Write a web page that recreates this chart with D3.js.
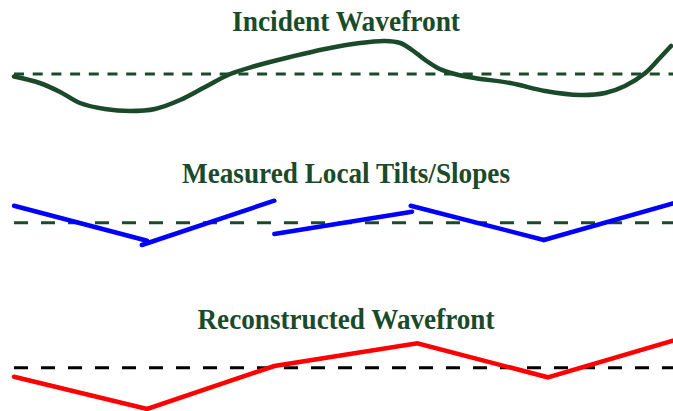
<!DOCTYPE html>
<html>
<head>
<meta charset="utf-8">
<script src="https://cdn.jsdelivr.net/npm/d3@7"></script>
<style>
  html, body { margin: 0; padding: 0; background: #ffffff; }
  svg { display: block; }
</style>
</head>
<body>
<svg id="chart" width="673" height="411"></svg>
<script>
// ---- Data ----
const titles = ["Incident Wavefront", "Measured Local Tilts/Slopes", "Reconstructed Wavefront"];

// Incident wavefront: aperture position (0-100) and phase (relative to reference)
const incidentX = [0, 3.9, 7.0, 10.0, 13.8, 17.6, 21.4, 25.2, 29.0, 32.8, 36.6, 41.9, 47.2, 52.5, 56.3,
                   58.6, 60.4, 62.4, 64.6, 66.9, 69.9, 75.3, 80.6, 85.9, 89.7, 92.7, 95.8, 98.0, 99.7];
const incidentY = [-2.5, -9, -18, -29, -35, -37, -35, -26, -13, 0, 8, 17, 25, 31, 33,
                   31, 24, 14, 5, 0, -4, -9, -17, -21, -19, -12, 1, 16, 28];

// Measured local tilts: one segment per subaperture
const tiltX0 = [0, 19.4, 39.5, 60.2, 80.4];
const tiltX1 = [20.2, 39.5, 60.4, 80.4, 100];
const tiltY0 = [17, -22.3, -11.3, 17, -17.3];
const tiltY1 = [-18, 22, 11, -17.3, 19.4];

// Reconstructed wavefront nodes
const reconX = [0, 20.2, 39.5, 61.2, 81.0, 100];
const reconY = [-9, -41.3, 1.7, 24.4, -9.6, 27];

// ---- Drawing ----
const svg = d3.select("#chart");
const x = d3.scaleLinear().domain([0, 100]).range([14, 673]);

const green = "#1b4a2b";
const panels = [
  { base: 74, titleY: 31, titleW: 228, dash: "10,8.7", dashColor: green },
  { base: 222.7, titleY: 183, titleW: 328, dash: "14,13", dashColor: green },
  { base: 367.7, titleY: 329, titleW: 297, dash: "14,13", dashColor: "#000000" }
];
const yScales = panels.map(p => d3.scaleLinear().domain([-40, 40]).range([p.base + 40, p.base - 40]));

// titles
svg.selectAll("text.title").data(titles).join("text")
  .attr("class", "title")
  .attr("x", 346)
  .attr("y", (d, i) => panels[i].titleY)
  .attr("text-anchor", "middle")
  .attr("font-family", "'Liberation Serif', 'Times New Roman', serif")
  .attr("font-weight", "bold")
  .attr("font-size", 30)
  .attr("textLength", (d, i) => panels[i].titleW)
  .attr("lengthAdjust", "spacingAndGlyphs")
  .attr("fill", green)
  .text(d => d);

// reference dashed lines
panels.forEach((p, i) => {
  svg.append("line")
    .attr("x1", x(0)).attr("x2", x(100))
    .attr("y1", yScales[i](0)).attr("y2", yScales[i](0))
    .attr("stroke", p.dashColor)
    .attr("stroke-width", 3)
    .attr("stroke-dasharray", p.dash);
});

// incident wavefront
const incident = incidentX.map((v, i) => [v, incidentY[i]]);
svg.append("path")
  .datum(incident)
  .attr("fill", "none")
  .attr("stroke", green)
  .attr("stroke-width", 4.5)
  .attr("stroke-linecap", "round")
  .attr("d", d3.line().x(d => x(d[0])).y(d => yScales[0](d[1])).curve(d3.curveCatmullRom.alpha(0.5)));

// measured tilts
const tilts = tiltX0.map((v, i) => ({ x0: v, x1: tiltX1[i], y0: tiltY0[i], y1: tiltY1[i] }));
svg.selectAll("line.tilt").data(tilts).join("line")
  .attr("class", "tilt")
  .attr("x1", d => x(d.x0)).attr("x2", d => x(d.x1))
  .attr("y1", d => yScales[1](d.y0)).attr("y2", d => yScales[1](d.y1))
  .attr("stroke", "#0000ff")
  .attr("stroke-width", 4.5)
  .attr("stroke-linecap", "round");

// reconstructed
const recon = reconX.map((v, i) => [v, reconY[i]]);
svg.append("path")
  .datum(recon)
  .attr("fill", "none")
  .attr("stroke", "#ff0000")
  .attr("stroke-width", 4.5)
  .attr("stroke-linecap", "round")
  .attr("stroke-linejoin", "miter")
  .attr("d", d3.line().x(d => x(d[0])).y(d => yScales[2](d[1])));
</script>
</body>
</html>
